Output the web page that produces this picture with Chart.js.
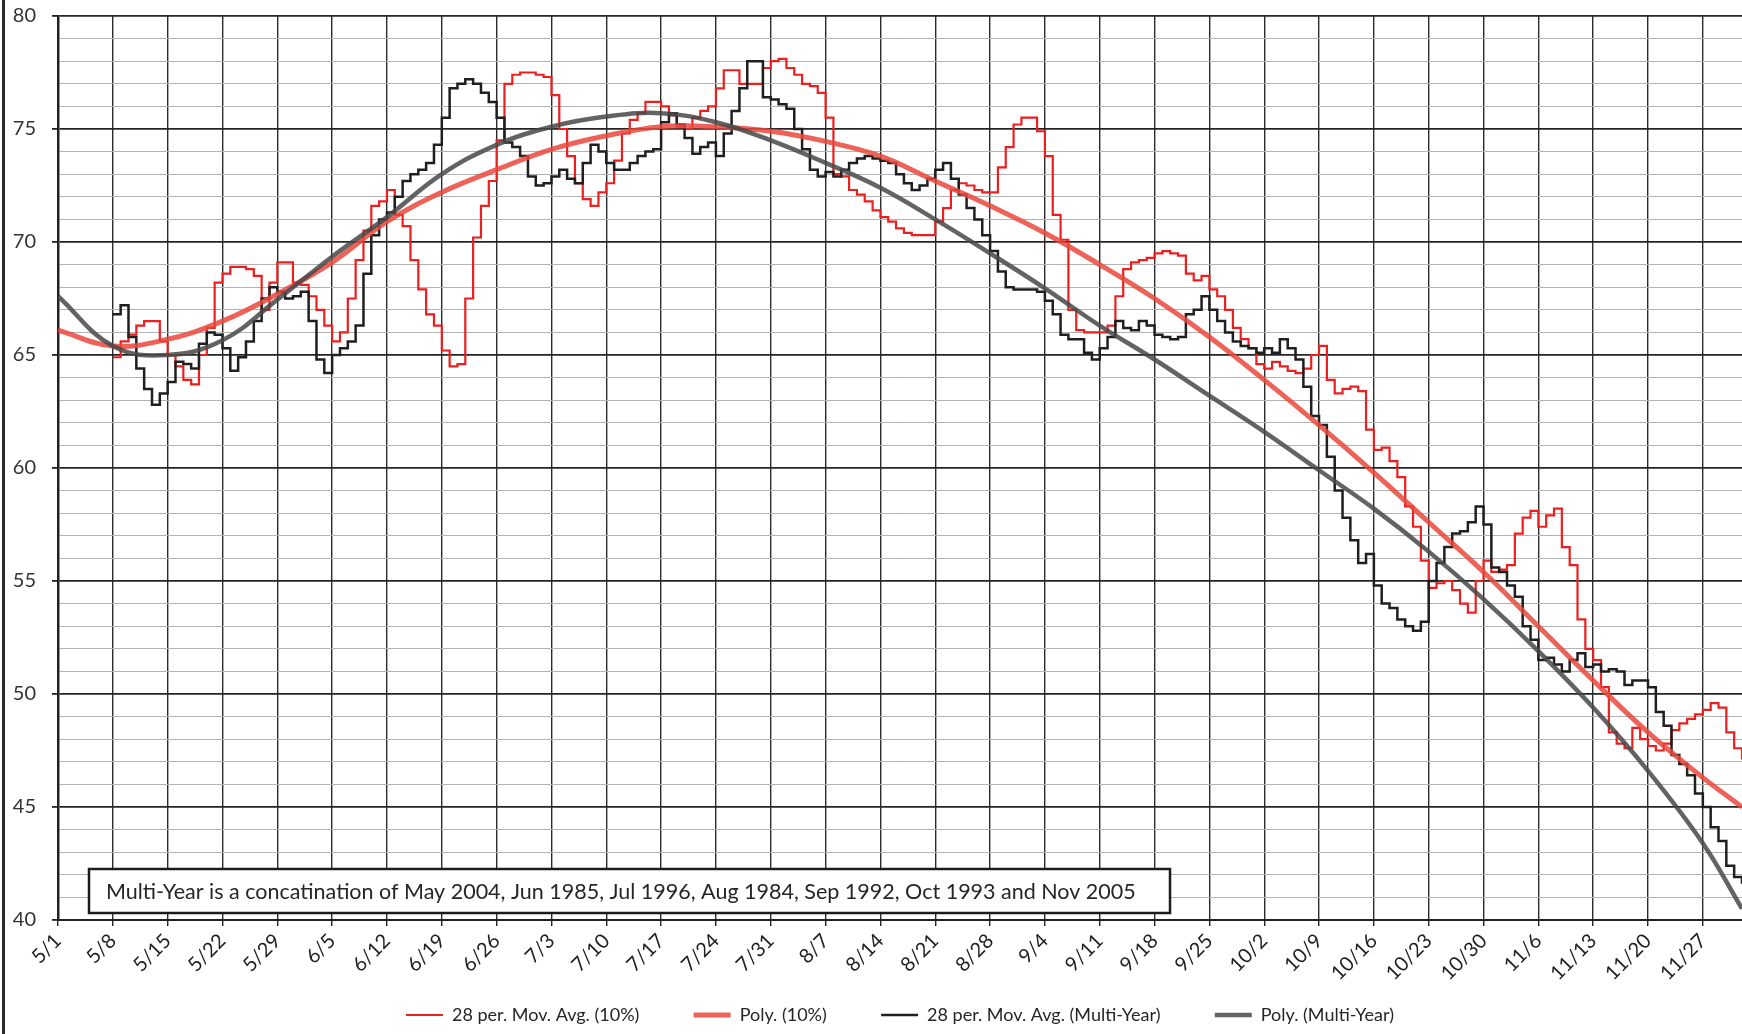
<!DOCTYPE html>
<html>
<head>
<meta charset="utf-8">
<script src="https://cdn.jsdelivr.net/npm/chart.js@4.4.1/dist/chart.umd.min.js"></script>
<style>
  html, body { margin: 0; padding: 0; background: #fff; }
  #wrap { position: relative; width: 1742px; height: 1034px; }
</style>
</head>
<body>
<div id="wrap"><canvas id="chart" width="1742" height="1034"></canvas></div>
<script>
// x axis is days since 5/1, one tick label per week
var xTickLabels = ['5/1', '5/8', '5/15', '5/22', '5/29', '6/5', '6/12', '6/19', '6/26', '7/3', '7/10',
  '7/17', '7/24', '7/31', '8/7', '8/14', '8/21', '8/28', '9/4', '9/11', '9/18', '9/25', '10/2',
  '10/9', '10/16', '10/23', '10/30', '11/6', '11/13', '11/20', '11/27'];

var seriesNames = ['28 per. Mov. Avg. (10%)', 'Poly. (10%)', '28 per. Mov. Avg. (Multi-Year)', 'Poly. (Multi-Year)'];

// moving averages, one value per day starting 5/8 (day 7)
var avgStartDay = 7;
var movAvg10 = [
  64.9, 65.6, 65.9, 66.3, 66.5, 66.5, 65.6, 65.0, 64.5, 63.9, 63.7, 65.0, 66.2, 68.2, 68.6, 68.9,
  68.9, 68.8, 68.5, 67.0, 68.2, 69.1, 69.1, 68.2, 68.1, 67.6, 67.0, 66.3,
  65.6, 66.0, 67.5, 69.2, 70.5, 71.6, 71.8, 72.3, 71.2, 70.7, 69.2, 67.9, 66.8, 66.3, 65.2, 64.5,
  64.6, 67.5, 70.2, 71.6, 72.7, 74.5, 77.0, 77.4, 77.5, 77.5, 77.4, 77.3, 76.5, 75.0, 73.8, 72.6,
  71.9, 71.6, 72.2, 72.6, 73.6, 74.8,
  75.4, 75.7, 76.2, 76.2, 76.0, 75.6, 75.1, 75.0, 75.5, 75.8, 76.0, 76.8, 77.6, 77.6, 77.0, 77.0,
  77.0, 77.7, 78.0, 78.1, 77.7, 77.4, 77.0, 76.9, 76.6, 75.5, 73.0, 72.9, 72.3, 72.1, 71.8, 71.4,
  71.1, 70.9, 70.6,
  70.4, 70.3, 70.3, 70.3, 70.9, 71.5, 72.3, 72.6, 72.5, 72.3, 72.2, 72.2, 73.3, 74.2, 75.2, 75.5,
  75.5, 74.9, 73.8, 71.2, 70.1, 67.0, 66.1, 66.0, 66.0, 66.0, 66.3, 67.6, 68.8, 69.1, 69.2, 69.3,
  69.5, 69.6, 69.5, 69.4, 68.6,
  68.3, 68.5, 67.9, 67.6, 67.0, 66.2, 65.7, 65.3, 64.6, 64.4, 64.7, 64.5, 64.3, 64.2, 64.4, 65.0,
  65.4, 63.9, 63.3, 63.5, 63.6, 63.4, 61.7, 60.8, 60.9, 60.3, 59.6, 58.3, 57.4, 55.9, 54.7, 54.9,
  55.0, 54.6, 54.0, 53.6,
  55.0, 55.9, 55.4, 55.5, 55.7, 57.1, 57.8, 58.1, 57.4, 57.9, 58.2, 56.5, 55.7, 53.3, 52.0, 51.5,
  50.3, 48.3, 47.8, 47.6, 48.5, 48.0, 47.7, 47.5, 47.8, 48.4, 48.7, 48.9, 49.1, 49.3, 49.6, 49.4,
  48.3, 47.6, 47.1
];
var movAvgMulti = [
  66.8, 67.2, 65.8, 64.4, 63.5, 62.8, 63.3, 63.8, 64.7, 64.6, 64.4, 65.5, 66.0, 65.9, 65.3, 64.3,
  64.9, 65.6, 66.5, 67.5, 68.0, 67.8, 67.5, 67.6, 67.8, 66.5, 64.8, 64.2, 65.0, 65.3, 65.6, 66.3,
  68.6, 70.3, 71.0, 71.3, 72.0, 72.7, 73.0, 73.2, 73.5, 74.3, 75.5, 76.8, 77.0, 77.2, 77.0, 76.6,
  76.2, 75.5, 74.4, 74.2, 73.8, 72.9, 72.5, 72.6, 72.9, 73.2, 72.8, 72.6, 73.5, 74.3, 74.0, 73.5,
  73.2, 73.2,
  73.5, 73.8, 74.0, 74.1, 75.3, 75.7, 75.2, 74.6, 73.9, 74.2, 74.4, 73.8, 74.8, 75.8, 76.8, 78.0,
  78.0, 76.4, 76.3, 76.1, 75.9, 75.0, 74.1, 73.2, 72.9, 73.1, 72.9, 73.2, 73.5, 73.7, 73.8, 73.7,
  73.6, 73.5, 73.0, 72.6,
  72.3, 72.5, 72.8, 73.2, 73.5, 72.8, 72.1, 71.5, 71.0, 70.3, 69.6, 68.7, 68.0, 67.9, 67.9, 67.9,
  67.8, 67.4, 66.8, 65.9, 65.7, 65.7, 65.1, 64.8, 65.3, 65.8, 66.5, 66.2, 66.1, 66.5, 66.3, 65.9,
  65.8, 65.7, 65.8, 66.8,
  67.0, 67.6, 67.0, 66.5, 66.0, 65.6, 65.4, 65.3, 65.1, 65.3, 65.1, 65.7, 65.3, 64.8, 63.6, 62.3,
  61.9, 60.5, 59.0, 57.8, 56.8, 55.8, 56.2, 54.8, 54.0, 53.8, 53.3, 53.0, 52.8, 53.2, 55.0, 55.8,
  56.5, 57.1, 57.2, 57.6, 58.3, 57.5, 55.6, 55.4, 54.8, 54.3, 53.0, 52.4, 51.5, 51.6, 51.3, 51.0,
  51.5, 51.8, 51.2, 51.3, 51.0, 51.1, 51.0, 50.4, 50.6, 50.6, 50.3, 49.2, 48.6, 47.3, 46.9, 46.4,
  45.6, 45.0, 44.1, 43.5, 42.4, 41.9, 41.6
];

// polynomial trend lines, read weekly
var polyDays = [0, 7, 14, 21, 28, 35, 42, 49, 56, 63, 70, 77, 84, 91, 98, 105, 112, 119, 126, 133,
  140, 147, 154, 161, 168, 175, 182, 189, 196, 203, 210, 215];
var poly10 = [66.1, 65.4, 65.7, 66.5, 67.7, 69.1, 70.9, 72.2, 73.2, 74.1, 74.7, 75.1, 75.1, 74.9,
  74.45, 73.8, 72.7, 71.6, 70.4, 69.0, 67.5, 65.8, 63.9, 61.9, 59.8, 57.6, 55.4, 53.0, 50.6, 48.3,
  46.3, 45.0];
var polyMulti = [67.6, 65.4, 65.0, 65.65, 67.45, 69.35, 71.1, 73.0, 74.3, 75.1, 75.55, 75.7, 75.3,
  74.5, 73.5, 72.4, 71.0, 69.5, 67.95, 66.3, 64.8, 63.2, 61.6, 59.9, 58.2, 56.3, 54.2, 51.9, 49.4,
  46.6, 43.4, 40.5];

var noteText = 'Multi-Year is a concatination of May 2004, Jun 1985, Jul 1996, Aug 1984, Sep 1992, Oct 1993 and Nov 2005';

var fontFamily = 'Lato, "Liberation Sans", sans-serif';

function dailyPoints(values, startDay) {
  return values.map(function (v, i) { return { x: startDay + i, y: v }; });
}
function weeklyPoints(values) {
  return values.map(function (v, i) { return { x: polyDays[i], y: v }; });
}

// text box and the left frame edge of the scanned sheet
var notePlugin = {
  id: 'note',
  afterDatasetsDraw: function (chart) {
    var ctx = chart.ctx;
    var area = chart.chartArea;
    var left = area.left + 31, top = area.bottom - 51, w = 1081, h = 44;
    ctx.save();
    ctx.fillStyle = '#fff';
    ctx.fillRect(left, top, w, h);
    ctx.lineWidth = 2.5;
    ctx.strokeStyle = '#1c1c1c';
    ctx.strokeRect(left, top, w, h);
    ctx.fillStyle = '#262626';
    ctx.font = '21.5px ' + fontFamily;
    ctx.textBaseline = 'middle';
    ctx.fillText(noteText, left + 17, top + h / 2 + 1);
    ctx.restore();
  },
  afterDraw: function (chart) {
    var ctx = chart.ctx;
    ctx.save();
    ctx.fillStyle = '#2a2a2a';
    ctx.fillRect(2, 0, 3, chart.height);
    ctx.restore();
  }
};

var chartData = {
  datasets: [{
    label: seriesNames[0],
    data: dailyPoints(movAvg10, avgStartDay),
    borderColor: '#ec1f1f',
    borderWidth: 2.2,
    stepped: true,
    pointRadius: 0,
    order: 3
  }, {
    label: seriesNames[1],
    data: weeklyPoints(poly10),
    borderColor: 'rgba(234, 72, 60, 0.85)',
    borderWidth: 5,
    tension: 0.4,
    pointRadius: 0,
    order: 1
  }, {
    label: seriesNames[2],
    data: dailyPoints(movAvgMulti, avgStartDay),
    borderColor: '#1f1f1f',
    borderWidth: 2.5,
    stepped: true,
    pointRadius: 0,
    order: 2
  }, {
    label: seriesNames[3],
    data: weeklyPoints(polyMulti),
    borderColor: 'rgba(72, 72, 72, 0.85)',
    borderWidth: 4.5,
    tension: 0.4,
    pointRadius: 0,
    order: 0
  }]
};

var config = {
  type: 'line',
  data: chartData,
  options: {
    responsive: false,
    animation: false,
    devicePixelRatio: 1,
    layout: { padding: { left: 0, right: 0, top: 16, bottom: 0 } },
    plugins: {
      tooltip: { enabled: false },
      legend: {
        position: 'bottom',
        fullSize: false,
        labels: {
          usePointStyle: true,
          pointStyle: 'line',
          pointStyleWidth: 37,
          padding: 22,
          color: '#262626',
          font: { family: fontFamily, size: 18 },
          sort: function (a, b) { return a.datasetIndex - b.datasetIndex; },
          // wider gap between items than the vertical padding allows
          generateLabels: function (chart) {
            var items = Chart.defaults.plugins.legend.labels.generateLabels(chart);
            items.forEach(function (item) {
              if (item.datasetIndex < 3) item.text = item.text + '       ';
            });
            return items;
          }
        }
      }
    },
    scales: {
      x: {
        type: 'linear',
        min: 0,
        max: 215,
        afterFit: function (scale) { scale.height = 64; },
        ticks: {
          stepSize: 7,
          autoSkip: false,
          includeBounds: false,
          maxRotation: 45,
          minRotation: 45,
          padding: 3,
          color: '#222',
          font: { family: fontFamily, size: 20 },
          callback: function (value) { return xTickLabels[Math.round(value / 7)]; }
        },
        grid: { color: '#2b2b2b', lineWidth: 1.4, tickLength: 6, tickColor: '#222' },
        border: { color: '#222', width: 2 }
      },
      y: {
        min: 40,
        max: 80,
        afterFit: function (scale) {
          scale.width = 58;
          scale.paddingTop = 0;
          scale.paddingBottom = 0;
        },
        ticks: {
          stepSize: 1,
          autoSkip: false,
          padding: 16,
          color: '#333',
          font: { family: fontFamily, size: 20 },
          callback: function (value) { return value % 5 === 0 ? value : ''; }
        },
        grid: {
          color: function (c) { return c.tick && c.tick.value % 5 === 0 ? '#242424' : '#b2b2b2'; },
          lineWidth: function (c) { return c.tick && c.tick.value % 5 === 0 ? 1.8 : 1; },
          tickLength: 6,
          tickColor: function (c) { return c.tick && c.tick.value % 5 === 0 ? '#222' : 'rgba(0,0,0,0)'; }
        },
        border: { color: '#222', width: 2.5 }
      }
    }
  },
  plugins: [notePlugin]
};

var myChart = new Chart(document.querySelector('#chart'), config);
</script>
</body>
</html>
